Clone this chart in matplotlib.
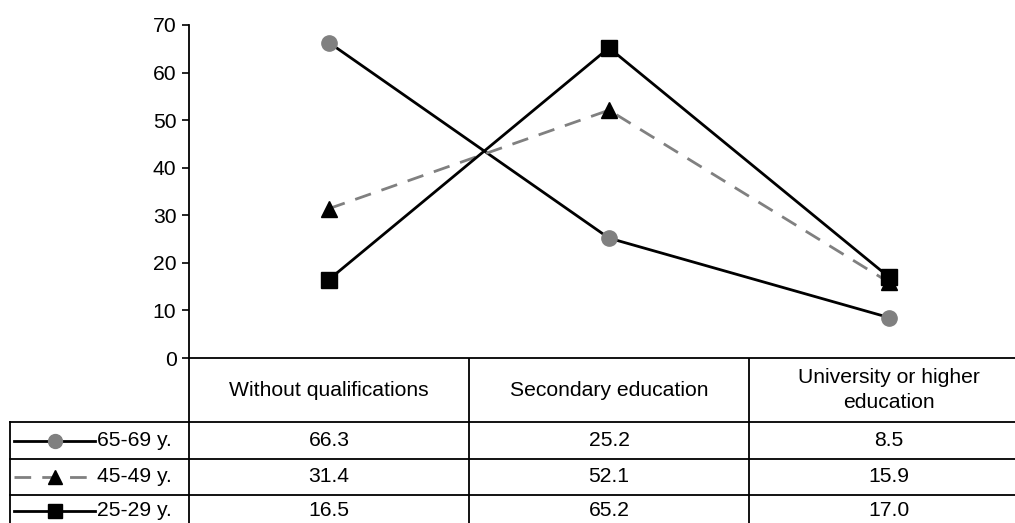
import matplotlib
matplotlib.use("Agg")
from matplotlib import pyplot as plt
from matplotlib import transforms

plt.rcParams['font.family'] = ['Liberation Sans', 'DejaVu Sans']

categories = ["Without qualifications", "Secondary education", "University or higher\neducation"]
series_names = ["65-69 y.", "45-49 y.", "25-29 y."]
v_65_69 = [66.3, 25.2, 8.5]
v_45_49 = [31.4, 52.1, 15.9]
v_25_29 = [16.5, 65.2, 17.0]
values = [v_65_69, v_45_49, v_25_29]
yticks = [0, 10, 20, 30, 40, 50, 60, 70]

styles = [
    dict(color='black', linestyle='-', marker='o', mfc='#808080', mec='#808080'),
    dict(color='#808080', linestyle=(0, (6, 4)), marker='^', mfc='black', mec='black'),
    dict(color='black', linestyle='-', marker='s', mfc='black', mec='black'),
]

W, H = 1015, 523
fig = plt.figure(figsize=(W / 100, H / 100), dpi=100)

# main plot area (pixel layout)
ax = fig.add_axes([189 / W, (H - 358) / H, 1 - 189 / W, (358 - 25) / H])
x = list(range(len(categories)))
for vals, st in zip(values, styles):
    ax.plot(x, vals, lw=2, markersize=11, **st, zorder=3)

ax.set_ylim(0, 70)
ax.set_xlim(-0.5, -0.5 + (W - 189) / 280)
ax.set_yticks(yticks)
ax.tick_params(axis='y', direction='out', length=5, width=1.2, labelsize=15.2, pad=4)
ax.set_xticks([])
ax.spines['top'].set_visible(False)
ax.spines['right'].set_visible(False)
ax.spines['left'].set_linewidth(1.3)
ax.spines['bottom'].set_linewidth(1.3)

# data table below the plot, drawn in a full-figure pixel axes
tab = fig.add_axes([0, 0, 1, 1], zorder=-1)
tab.set_xlim(0, W)
tab.set_ylim(H, 0)
tab.axis('off')
blend = transforms.blended_transform_factory(ax.transData, tab.transData)

lw = 1.3
row_edges = [422, 459, 495, 531]
# horizontal lines
tab.plot([10, W], [422, 422], color='black', lw=lw)
for y in row_edges[1:3]:
    tab.plot([10, W], [y, y], color='black', lw=lw)
# vertical lines
tab.plot([189, 189], [358, H], color='black', lw=lw)
tab.plot([10, 10], [422, H], color='black', lw=lw)
for i in range(1, len(categories) + 1):
    tab.plot([i - 0.5, i - 0.5], [358, H], color='black', lw=lw, transform=blend)

# header
for i, cat in enumerate(categories):
    tab.text(i, 390, cat, ha='center', va='center', fontsize=15.2, transform=blend,
             linespacing=1.45)

# rows
for r, (name, vals, st) in enumerate(zip(series_names, values, styles)):
    yc = (row_edges[r] + row_edges[r + 1]) / 2
    if r == 2:
        yc = 511
    tab.plot([14, 95], [yc, yc], color=st['color'], linestyle=st['linestyle'], lw=2)
    tab.plot([55], [yc], marker=st['marker'], mfc=st['mfc'], mec=st['mec'],
             markersize=10, linestyle='none')
    tab.text(97, yc, name, ha='left', va='center', fontsize=15.2)
    for i, v in enumerate(vals):
        tab.text(i, yc, f"{v:.1f}", ha='center', va='center', fontsize=15.2, transform=blend)

fig.savefig("out.png", dpi=100)
